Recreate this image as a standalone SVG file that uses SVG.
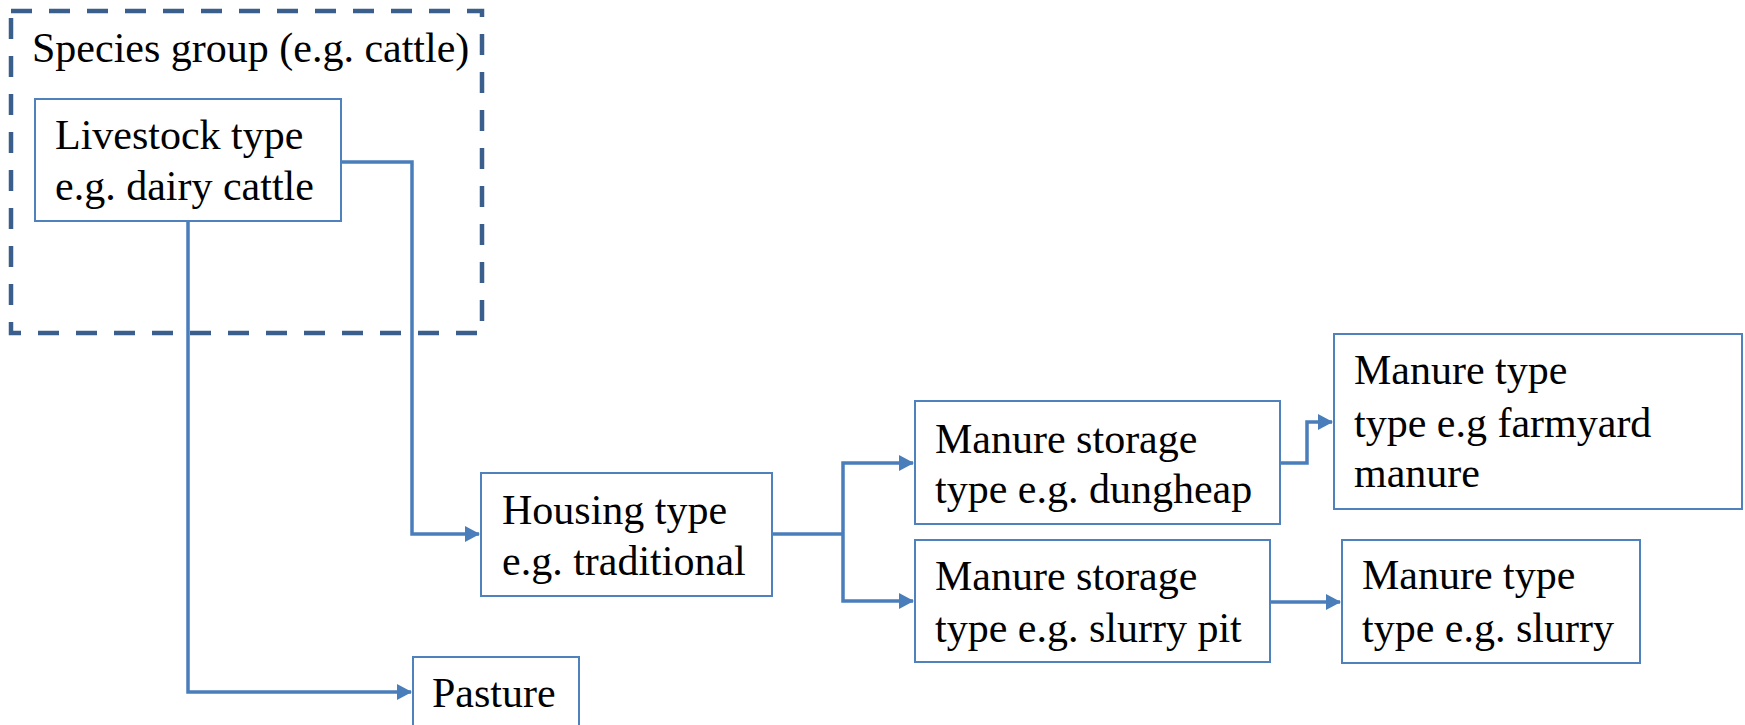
<svg xmlns="http://www.w3.org/2000/svg" width="1745" height="725" viewBox="0 0 1745 725">
<style>
.box{fill:#fff;stroke:#4F81BD;stroke-width:2}
.grp{fill:none;stroke:#3B5F8C;stroke-width:4.5;stroke-dasharray:21 17}
.t{font-family:'Liberation Serif','Times New Roman','DejaVu Serif',serif;font-size:42px;fill:#000}
.c{fill:none;stroke:#4A7EBB;stroke-width:3.5}
</style>
<defs>
<marker id="ah" markerWidth="16" markerHeight="16" refX="14" refY="8" orient="auto" markerUnits="userSpaceOnUse">
<path d="M0,0 L15,8 L0,16 Z" fill="#4A7EBB"/>
</marker>
</defs>
<rect width="1745" height="725" fill="#fff"/>
<g id="species-group">
<rect class="grp" x="11" y="11" width="471" height="322"/>
<text class="t" x="32" y="62">Species group (e.g. cattle)</text>
</g>
<g id="connectors">
<polyline class="c" points="341,162 412,162 412,534 479,534" marker-end="url(#ah)"/>
<polyline class="c" points="188,221 188,692 411,692" marker-end="url(#ah)"/>
<polyline class="c" points="772,534 843,534"/>
<polyline class="c" points="843,534 843,463 913,463" marker-end="url(#ah)"/>
<polyline class="c" points="843,534 843,601 913,601" marker-end="url(#ah)"/>
<polyline class="c" points="1280,463 1307,463 1307,422 1332,422" marker-end="url(#ah)"/>
<polyline class="c" points="1270,602 1340,602" marker-end="url(#ah)"/>
</g>
<g id="livestock">
<rect class="box" x="35" y="99" width="306" height="122"/>
<text class="t" x="55" y="149">Livestock type</text>
<text class="t" x="55" y="200">e.g. dairy cattle</text>
</g>
<g id="housing">
<rect class="box" x="481" y="473" width="291" height="123"/>
<text class="t" x="502" y="524">Housing type</text>
<text class="t" x="502" y="575">e.g. traditional</text>
</g>
<g id="pasture">
<rect class="box" x="413" y="657" width="166" height="80"/>
<text class="t" x="432" y="707">Pasture</text>
</g>
<g id="storage-dungheap">
<rect class="box" x="915" y="401" width="365" height="123"/>
<text class="t" x="935" y="453">Manure storage</text>
<text class="t" x="935" y="503">type e.g. dungheap</text>
</g>
<g id="storage-slurry">
<rect class="box" x="915" y="540" width="355" height="122"/>
<text class="t" x="935" y="590">Manure storage</text>
<text class="t" x="935" y="642">type e.g. slurry pit</text>
</g>
<g id="manure-farmyard">
<rect class="box" x="1334" y="334" width="408" height="175"/>
<text class="t" x="1354" y="384">Manure type</text>
<text class="t" x="1354" y="437">type e.g farmyard</text>
<text class="t" x="1354" y="487">manure</text>
</g>
<g id="manure-slurry">
<rect class="box" x="1342" y="540" width="298" height="123"/>
<text class="t" x="1362" y="589">Manure type</text>
<text class="t" x="1362" y="642">type e.g. slurry</text>
</g>
</svg>
